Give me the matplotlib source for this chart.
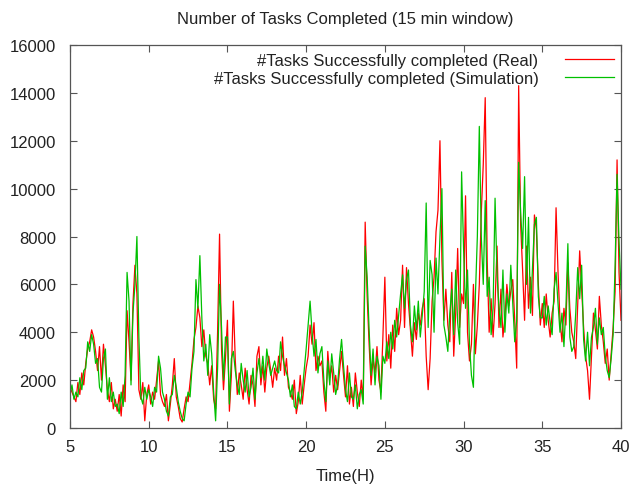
import numpy as np
import matplotlib
matplotlib.use("Agg")
import matplotlib.pyplot as plt

plt.rcParams['font.family'] = ['Liberation Sans', 'DejaVu Sans']

# time axis: 5h .. 40h, one value every 1/8 hour
t_start, t_end, per_hour = 5, 40, 8
hours = np.arange(t_start * per_hour, t_end * per_hour + 1) / per_hour

real = [
    1700, 1500, 1300, 1100, 1900, 1400, 2300, 1800,   # 5
    2700, 3300, 3600, 4100, 3800, 3200, 2400, 3400,   # 6
    2000, 3500, 2600, 1600, 1100, 1900, 800, 1200,    # 7
    700, 1400, 500, 1800, 1100, 4900, 3600, 2000,     # 8
    5200, 6800, 5600, 1600, 1200, 1900, 300, 1400,    # 9
    1800, 1000, 1500, 1200, 2000, 2800, 1400, 1100,   # 10
    900, 1400, 300, 1000, 1800, 2900, 1300, 900,      # 11
    400, 250, 800, 1300, 1100, 1900, 2700, 3700,      # 12
    4200, 5100, 4600, 3400, 4100, 3000, 2700, 1800,   # 13
    2600, 1200, 800, 4000, 8100, 3300, 1600, 2900,    # 14
    4500, 700, 2200, 5300, 2800, 1400, 2300, 1800,    # 15
    1200, 2500, 1600, 1000, 2200, 1800, 900, 3000,    # 16
    3400, 1800, 2600, 1500, 2500, 3000, 2400, 1700,   # 17
    2500, 2000, 3000, 2400, 3800, 2200, 2900, 1700,   # 18
    1500, 1200, 2000, 600, 1100, 2200, 1000, 1800,    # 19
    2500, 3000, 4300, 3500, 4400, 2400, 3000, 2600,   # 20
    2800, 1500, 700, 3200, 2100, 2600, 1500, 2200,    # 21
    1600, 2400, 3200, 2200, 1300, 2600, 1000, 1700,   # 22
    900, 2300, 1500, 900, 2000, 1200, 8600, 5500,     # 23
    3500, 1800, 2900, 2300, 3400, 2000, 1500, 3800,   # 24
    6300, 2800, 3900, 2500, 4300, 3200, 5000, 3900,   # 25
    4500, 6800, 4200, 6700, 5200, 4100, 3000, 4400,   # 26
    3700, 4800, 4300, 5000, 5400, 3000, 1600, 2900,   # 27
    5300, 6300, 8200, 9100, 12000, 7000, 4500, 5800,  # 28
    4300, 3600, 6500, 3000, 4800, 7500, 4200, 5600,   # 29
    5200, 9700, 4000, 2800, 3500, 6000, 3100, 4300,   # 30
    6000, 9000, 11000, 13800, 7000, 4000, 5400, 3800, # 31
    5200, 7600, 4200, 5800, 3800, 4600, 6000, 5100,   # 32
    5700, 6200, 4500, 2500, 14300, 8500, 6600, 4500,  # 33
    7600, 5000, 6300, 4700, 8900, 8300, 6000, 4300,   # 34
    5200, 4200, 5600, 4500, 3800, 4800, 5300, 9200,   # 35
    6500, 4500, 3600, 5000, 4300, 6900, 5000, 4000,   # 36
    3600, 2900, 5200, 7400, 5800, 4200, 3000, 2400,   # 37
    1200, 3000, 4800, 4100, 3300, 5500, 4300, 3600,   # 38
    2700, 3300, 2000, 3100, 4200, 5700, 11200, 6500,  # 39
    4500,                                             # 40
]

simulation = [
    1400, 1800, 1200, 1500, 1300, 2100, 1600, 2400,   # 5
    2500, 3600, 3200, 3900, 3500, 2700, 2900, 1700,   # 6
    1500, 2900, 3300, 1200, 2100, 1100, 1500, 900,    # 7
    1000, 600, 1500, 900, 2200, 6500, 5300, 1800,     # 8
    4800, 6000, 8000, 3800, 1300, 1000, 1700, 1200,   # 9
    1600, 1300, 900, 1700, 1500, 3000, 2500, 1500,    # 10
    1200, 700, 500, 1300, 1400, 2200, 1700, 1100,     # 11
    700, 400, 300, 1000, 1500, 1300, 2500, 3200,      # 12
    6200, 5000, 7200, 4600, 2800, 3500, 2200, 3900,   # 13
    3100, 1500, 300, 2500, 6000, 4200, 2000, 3800,    # 14
    3800, 1000, 2900, 3200, 2400, 1800, 1400, 2700,   # 15
    2000, 1500, 2400, 1300, 1700, 2500, 1200, 2300,   # 16
    2900, 2100, 3000, 2000, 3300, 2700, 2200, 2500,   # 17
    2800, 2400, 2300, 3600, 3000, 2600, 2300, 2000,   # 18
    1300, 1800, 900, 800, 1500, 1000, 1500, 2400,     # 19
    3300, 4300, 5300, 4000, 3000, 3700, 2300, 3100,   # 20
    3400, 2000, 1100, 2800, 1800, 3100, 2300, 1400,   # 21
    1800, 2900, 3700, 2600, 1600, 1100, 2300, 1300,   # 22
    1200, 1800, 800, 1400, 1600, 1000, 7600, 6300,    # 23
    4100, 2200, 3300, 1800, 3000, 2600, 1200, 3000,   # 24
    2700, 3600, 2900, 4000, 3300, 4500, 3800, 4700,   # 25
    5600, 6400, 5000, 6200, 6600, 4300, 3600, 5100,   # 26
    4100, 5300, 3800, 4700, 5700, 9400, 4200, 7000,   # 27
    6400, 4000, 7100, 5600, 8000, 10000, 4300, 3800,  # 28
    3200, 4800, 5800, 3900, 6600, 4400, 3500, 10700,  # 29
    7500, 5000, 6600, 3500, 2200, 1700, 5500, 8000,   # 30
    12600, 8000, 6000, 9500, 5500, 6300, 3900, 5000,  # 31
    9600, 6400, 5000, 4200, 6600, 4000, 5600, 4800,   # 32
    6800, 5200, 3600, 4500, 11100, 9000, 7500, 10500, # 33
    6000, 8800, 4800, 6600, 8500, 8800, 5500, 4600,   # 34
    4600, 5500, 4300, 5100, 4400, 3900, 5800, 6500,   # 35
    5200, 4000, 4800, 3400, 5000, 7700, 3800, 3200,   # 36
    3400, 4800, 6700, 5400, 6800, 3700, 2800, 4000,   # 37
    2600, 3800, 4200, 5000, 3500, 4600, 3900, 4200,   # 38
    3000, 2400, 2100, 2900, 3900, 6800, 10600, 7800,  # 39
    5800,                                             # 40
]

title = "Number of Tasks Completed (15 min window)"
label_real = "#Tasks Successfully completed (Real)"
label_sim = "#Tasks Successfully completed (Simulation)"
xlabel = "Time(H)"
xticks = [5, 10, 15, 20, 25, 30, 35, 40]
yticks = list(range(0, 16001, 2000))

fs = 12
text_color = "#222222"
fig = plt.figure(figsize=(6.32, 4.89), dpi=100)
ax = fig.add_axes([70/632, 1-429/489, (621-70)/632, (429-46)/489])

ax.plot(hours, real, color="#ff0000", lw=0.9, label=label_real)
ax.plot(hours, simulation, color="#00c000", lw=0.9, label=label_sim)

ax.set_xlim(5, 40)
ax.set_ylim(0, 16000)
ax.set_xticks(xticks)
ax.set_yticks(yticks)
ax.tick_params(direction="in", top=True, right=True, length=5, width=0.8,
               colors="#555555", labelcolor=text_color, labelsize=fs)
ax.tick_params(axis="x", pad=8)
ax.tick_params(axis="y", pad=10)
for s in ax.spines.values():
    s.set_color("#555555")
    s.set_linewidth(0.9)

ax.set_title(title, fontsize=fs, color=text_color, pad=16)
ax.set_xlabel(xlabel, fontsize=fs, color=text_color, labelpad=10)

leg = ax.legend(loc="upper right", frameon=False, markerfirst=False,
                fontsize=fs, handlelength=2.9, borderaxespad=0.15,
                borderpad=0.3, labelspacing=0.2, handletextpad=1.6)
for txt in leg.get_texts():
    txt.set_color(text_color)
    txt.set_ha("right")

fig.savefig("out.png", dpi=100)
